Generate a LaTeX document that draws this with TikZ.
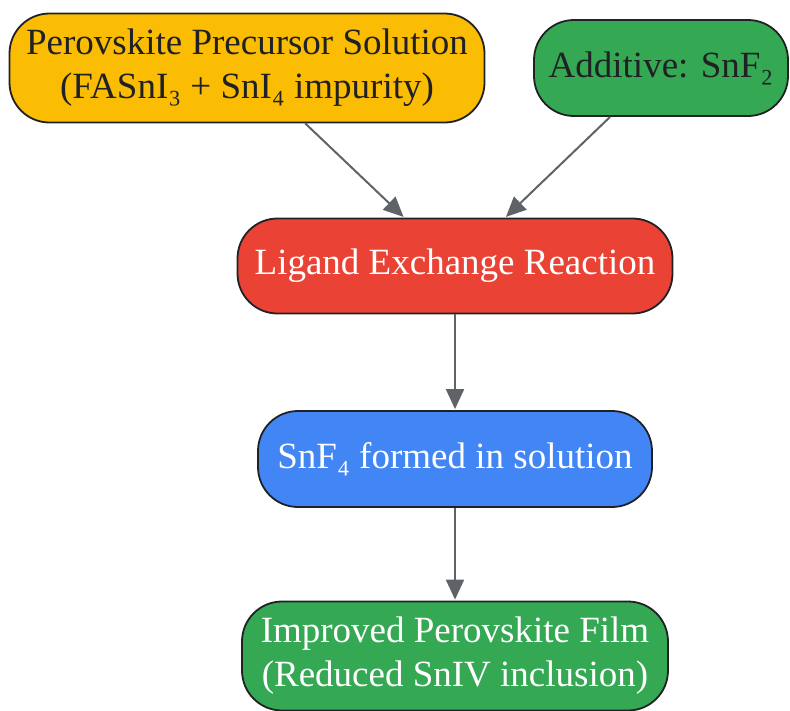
\documentclass[tikz,border=0pt]{standalone}
\usepackage{fontspec}
\setmainfont{Liberation Serif}
\usepackage{xcolor}
\usepackage{tikz}
\usetikzlibrary{arrows.meta, positioning}
\definecolor{gyellow}{HTML}{FBBC04}
\definecolor{ggreen}{HTML}{34A853}
\definecolor{gred}{HTML}{EA4335}
\definecolor{gblue}{HTML}{4285F4}
\definecolor{gdark}{HTML}{202124}
\definecolor{ggray}{HTML}{5F6368}
\tikzset{
    procbox/.style={
        rectangle,
        rounded corners=40pt,
        line width=1.8pt,
        draw=gdark,
        align=center,
        font=\fontsize{37}{44}\selectfont,
        inner sep=0pt,
    },
    flow/.style={
        -{Triangle[length=20pt,width=18pt]},
        line width=2pt,
        draw=ggray,
        shorten >=1pt,
    },
}
\begin{document}
\begin{tikzpicture}[x=1pt, y=-1pt, node distance=193pt, on grid]
      \useasboundingbox (0,0) rectangle (790,710);

      \node[procbox, fill=gred, text=white, minimum width=435pt, minimum height=95pt] (lig) at (455,266) {Ligand Exchange Reaction};

      \node[procbox, fill=gyellow, text=gdark, minimum width=475pt, minimum height=109pt, above left=198pt and 208pt of lig] (pre) {Perovskite Precursor Solution\\(FASnI₃ + SnI₄ impurity)};

      \node[procbox, fill=ggreen, text=gdark, minimum width=254pt, minimum height=96pt, above right=198pt and 206pt of lig] (add) {Additive: SnF₂};

      \node[procbox, fill=gblue, text=white, minimum width=394pt, minimum height=96pt, below=of lig] (snf) {SnF₄ formed in solution};

      \node[procbox, fill=ggreen, text=white, minimum width=426pt, minimum height=109pt, below=197pt of snf] (film) {Improved Perovskite Film\\(Reduced SnIV inclusion)};

      \draw[flow] (pre) -- (lig);
      \draw[flow] (add) -- (lig);
      \draw[flow] (lig) -- (snf);
      \draw[flow] (snf) -- (film);

    \end{tikzpicture}
\end{document}
